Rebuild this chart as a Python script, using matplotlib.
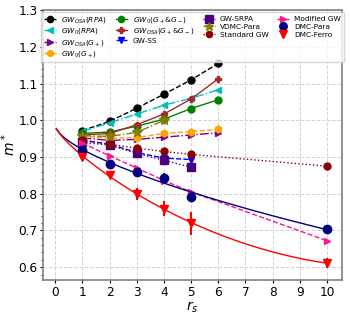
import numpy as np
import matplotlib
matplotlib.use("Agg")
import matplotlib.pyplot as plt
from matplotlib.ticker import AutoMinorLocator

# effective mass m* vs r_s
rs6 = [1, 2, 3, 4, 5, 6]
rs5 = [1, 2, 3, 4, 5]
rs4 = [1, 2, 3, 4]
rs_long = [1, 2, 3, 4, 5, 10]

gw_osa_rpa = [0.972, 0.997, 1.033, 1.071, 1.110, 1.155]
gw0_rpa = [0.970, 0.993, 1.017, 1.041, 1.060, 1.083]
gw_osa_gp = [0.952, 0.945, 0.948, 0.954, 0.960, 0.966]
gw0_gp = [0.957, 0.951, 0.953, 0.964, 0.969, 0.975]
gw0_gpm = [0.964, 0.968, 0.984, 1.003, 1.032, 1.056]
gw_osa_gpm = [0.960, 0.964, 0.988, 1.017, 1.058, 1.113]
gw_ss = [0.945, 0.935, 0.912, 0.897, 0.893]
gw_srpa = [0.940, 0.932, 0.910, 0.891, 0.872]
vdmc_para = [0.958, 0.956, 0.967, 1.000]
standard_gw = [0.946, 0.935, 0.924, 0.915, 0.907, 0.875]
modified_gw = [0.938, 0.903, 0.870, 0.836, 0.805, 0.672]
dmc_para = [0.919, 0.881, 0.858, 0.843, 0.792, 0.703]
dmc_para_err = [0.004, 0.010, 0.008, 0.014, 0.008, 0.012]
dmc_ferro = [0.899, 0.851, 0.800, 0.759, 0.719, 0.611]
dmc_ferro_err = [0.003, 0.005, 0.016, 0.020, 0.032, 0.014]

# where the fitted curves start
fit_start_rs = 0.04
fit_start_m = 0.978

fig = plt.figure(figsize=(3.5, 3.15), dpi=100)
ax = fig.add_axes([0.123, 0.111, 0.854, 0.857])

ms = 5
ax.plot(rs6, gw_osa_rpa, 'o--', color='black', ms=ms, lw=1, label=r'$GW_{OSA}(RPA)$')
ax.plot(rs6, gw0_rpa, '<-.', color='c', ms=ms, lw=1, label=r'$GW_0(RPA)$')
ax.plot(rs6, gw_osa_gp, '>-.', color='purple', ms=ms, lw=1, label=r'$GW_{OSA}(G_+)$')
ax.plot(rs6, gw0_gp, 'h--', color='orange', ms=ms, lw=1, label=r'$GW_0(G_+)$')
ax.plot(rs6, gw0_gpm, 'o-', color='green', ms=ms, lw=1, label=r'$GW_0(G_+$&$G_-)$')
ax.plot(rs6, gw_osa_gpm, 'P-', color='brown', ms=ms, lw=1, label=r'$GW_{OSA}(G_+$&$G_-)$')
ax.plot(rs5, gw_ss, 'v--', color='blue', ms=ms, lw=1, label='GW-SS')
ax.plot(rs5, gw_srpa, 's:', color='indigo', ms=ms + 1, lw=1, label='GW-SRPA')
ax.plot(rs4, vdmc_para, '*-.', color='olive', ms=ms + 2, lw=1, label='VDMC-Para')
ax.plot(rs_long, standard_gw, 'o:', color='darkred', ms=ms, lw=1, label='Standard GW')
ax.plot(rs_long, modified_gw, '>--', color='deeppink', ms=ms, lw=1, label='Modified GW')
ax.errorbar(rs_long, dmc_para, yerr=dmc_para_err, fmt='o', color='navy', ms=ms + 1, label='DMC-Para')
ax.errorbar(rs_long, dmc_ferro, yerr=dmc_ferro_err, fmt='v', color='red', ms=ms + 1, label='DMC-Ferro')

# smooth fits through the DMC points
x = np.array([fit_start_rs] + rs_long, dtype=float)
xf = np.linspace(fit_start_rs, 10, 200)
basis = lambda r: np.column_stack([np.ones_like(r), np.sqrt(r), r, r ** 2])
for y, c in [(dmc_para, 'navy'), (dmc_ferro, 'red')]:
    coef = np.linalg.lstsq(basis(x), np.array([fit_start_m] + y), rcond=None)[0]
    ax.plot(xf, basis(xf) @ coef, '-', color=c, lw=1)

ax.set_xlim(-0.45, 10.55)
ax.set_ylim(0.565, 1.3)
ax.set_xticks(range(0, 11))
ax.set_yticks([0.6, 0.7, 0.8, 0.9, 1.0, 1.1, 1.2, 1.3])
ax.yaxis.set_minor_locator(AutoMinorLocator(5))
ax.tick_params(labelsize=8.7, pad=1.5, length=2.5)
ax.tick_params(axis='y', which='minor', length=1.5)
ax.grid(True, linestyle='--', color='lightgray', lw=0.7)
for s in ax.spines.values():
    s.set_color('gray')
    s.set_linewidth(1.2)
ax.set_xlabel(r'$r_s$', fontsize=10, labelpad=1)
ax.set_ylabel(r'$m^*$', fontsize=10)
ax.yaxis.set_label_coords(-0.085, 0.5)

ax.legend(ncol=4, loc='upper center', fontsize=5.3, columnspacing=1.2,
          handlelength=1.6, handletextpad=0.7, borderaxespad=0.25,
          borderpad=0.4, labelspacing=0.2, markerscale=0.9,
          bbox_to_anchor=(0.5, 1.0))

fig.savefig('out.png', dpi=100)
